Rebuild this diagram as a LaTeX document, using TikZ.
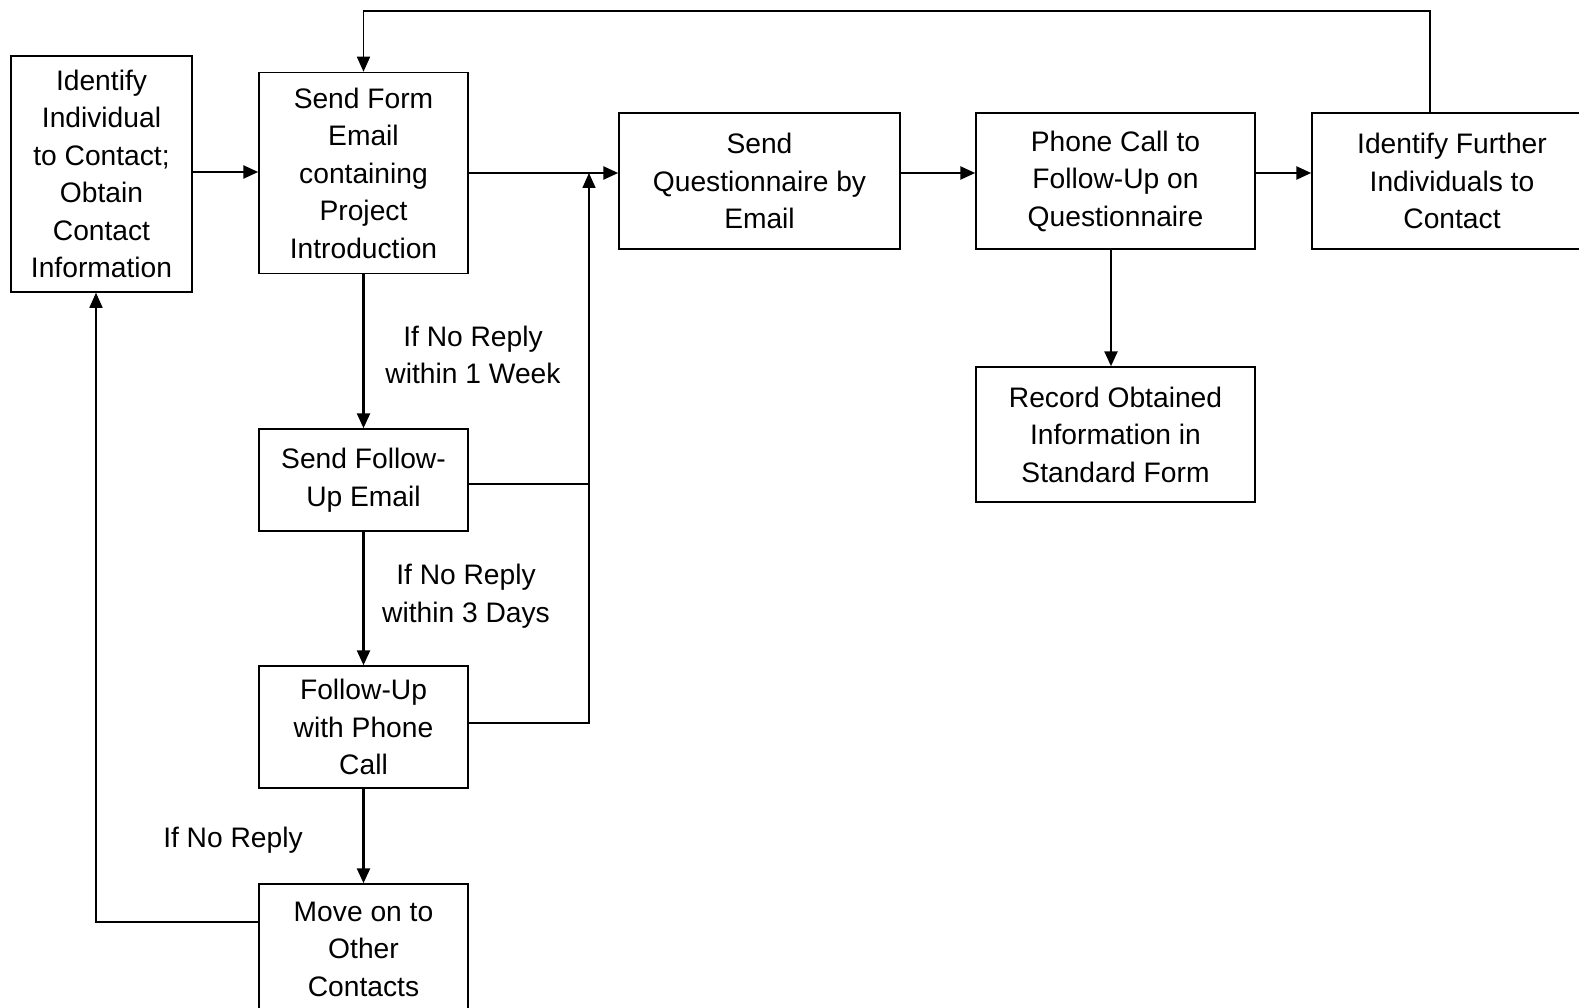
\documentclass[tikz,border=0pt]{standalone}
\usepackage{fontspec}
\setmainfont{Liberation Sans}
\usetikzlibrary{arrows.meta}
\begin{document}
\begin{tikzpicture}[x=1pt,y=-1pt,
  every node/.style={font=\fontsize{28.2}{37.5}\selectfont, align=center, inner sep=0pt},
  box/.style={draw, line width=1.5pt, minimum width=#1},
  link/.style={line width=1.6pt},
  tip/.style={-{Triangle[length=15pt,width=13pt]}},
  arr/.style={line width=2.5pt, tip},
  larr/.style={link, tip}]
\useasboundingbox (0,0) rectangle (1579,1008);

% process boxes
\node[box=181pt, minimum height=236pt] (b1) at (101.5,174) {Identify\\Individual\\to Contact;\\Obtain\\Contact\\Information};
\node[box=209pt, minimum height=201pt] (b2) at (363.5,173) {Send Form\\Email\\containing\\Project\\Introduction};
\node[box=281pt, minimum height=136pt] (b3) at (759.5,181) {Send\\Questionnaire by\\Email};
\node[box=279pt, minimum height=136pt] (b4) at (1115.5,181) {Phone Call to\\Follow-Up on\\Questionnaire};
\node[box=280pt, minimum height=136pt] (b5) at (1452,181) {Identify Further\\Individuals to\\Contact};
\node[box=279pt, minimum height=135pt] (b6) at (1115.5,434.5) {Record Obtained\\Information in\\Standard Form};
\node[box=209pt, minimum height=102pt] (b7) at (363.5,480) {Send Follow-\\Up Email};
\node[box=209pt, minimum height=122pt] (b8) at (363.5,727) {Follow-Up\\with Phone\\Call};
\node[box=209pt, minimum height=130pt] (b9) at (363.5,949) {Move on to\\Other\\Contacts};

% condition labels
\node (l1) at (473,355) {If No Reply\\within 1 Week};
\node (l2) at (466,596) {If No Reply\\within 3 Days};
\node (l3) at (233,840) {If No Reply};

% routing points
\coordinate (jn) at (589,173);
\coordinate (top) at (1430,11);
\coordinate (lb) at (96,922);
\coordinate (dn) at (1111,249);

% main row
\draw[arr] (b1.east |- 0,172) -- (b2.west |- 0,172);
\draw[arr] (b2.east |- jn) -- (b3.west |- jn);
\draw[arr] (b3.east |- jn) -- (b4.west |- jn);
\draw[arr] (b4.east |- jn) -- (b5.west |- jn);

% return loop to the form email
\draw[larr] (b5.north -| top) -- (top) -| (b2.north);

% follow-up chain
\draw[arr] (b2.south) -- (b7.north);
\draw[arr] (b7.south) -- (b8.north);
\draw[arr] (b8.south) -- (b9.north);

% replies feed the questionnaire step
\draw[larr] (b8.east |- 0,723) -- (589,723) -- (jn);
\draw[link] (b7.east |- 0,484) -- (589,484);

% move on to next contact
\draw[larr] (b9.west |- lb) -- (lb) -- (lb |- b1.south);

% record information
\draw[arr] (dn) -- (dn |- b6.north);
\end{tikzpicture}
\end{document}
